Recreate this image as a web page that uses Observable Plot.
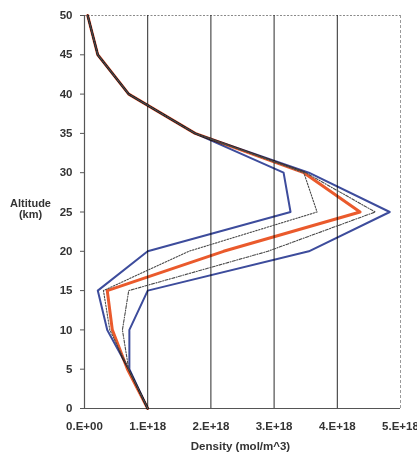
<!DOCTYPE html>
<html>
<head>
<meta charset="utf-8">
<script src="https://cdn.jsdelivr.net/npm/d3@7"></script>
<script src="https://cdn.jsdelivr.net/npm/@observablehq/plot@0.6"></script>
<style>
  html, body { margin: 0; padding: 0; background: #fff; }
  #chart { width: 417px; height: 456px; overflow: hidden; }
</style>
</head>
<body>
<div id="chart"></div>
<script>
// Ozone density profiles (units of 1E18 mol/m^3) versus altitude (km)
const altitude   = [0, 5, 10, 15, 20, 25, 30, 35, 40, 45, 50];
const densityMin = [1.0, 0.70, 0.36, 0.21, 1.00, 3.26, 3.15, 1.75, 0.70, 0.21, 0.05];
const densityLow = [1.0, 0.70, 0.40, 0.30, 1.65, 3.68, 3.47, 1.75, 0.70, 0.21, 0.05];
const densityMean= [1.0, 0.68, 0.44, 0.36, 2.20, 4.36, 3.47, 1.75, 0.70, 0.21, 0.05];
const densityHigh= [1.0, 0.70, 0.60, 0.70, 2.90, 4.60, 3.50, 1.75, 0.70, 0.21, 0.05];
const densityMax = [1.0, 0.71, 0.71, 1.00, 3.55, 4.83, 3.55, 1.75, 0.70, 0.21, 0.05];

const xTicks = [0, 1, 2, 3, 4, 5];
const xTickLabels = ["0.E+00", "1.E+18", "2.E+18", "3.E+18", "4.E+18", "5.E+18"];
const yTicks = [0, 5, 10, 15, 20, 25, 30, 35, 40, 45, 50];

const profile = (values) => altitude.map((a, i) => ({alt: a, density: values[i]}));

const blue = "#3d4c9c";
const red = "#ea5a2c";
const dots = "#4a4a4a";
const font = "'Liberation Sans', Arial, sans-serif";

const chart = Plot.plot({
  width: 417,
  height: 456,
  marginLeft: 84,
  marginRight: 17,
  marginTop: 15,
  marginBottom: 48,
  style: {fontFamily: font, fontSize: "11.5px", fontWeight: "bold", color: "#333", background: "#fff"},
  x: {domain: [0, 5]},
  y: {domain: [0, 50]},
  marks: [
    // frame: dotted top, dashed right, solid left/bottom
    Plot.ruleY([50], {stroke: "#8a8a8a", strokeDasharray: "2,1.5", strokeWidth: 1}),
    Plot.ruleX([5], {stroke: "#9a9a9a", strokeDasharray: "3,2", strokeWidth: 1}),
    Plot.ruleX([1, 2, 3, 4], {stroke: "#2a2a2a", strokeWidth: 1}),
    Plot.ruleX([0], {stroke: "#555", strokeWidth: 1.2}),
    Plot.ruleY([0], {stroke: "#555", strokeWidth: 1.2}),
    Plot.axisX({ticks: xTicks, tickFormat: (d) => xTickLabels[xTicks.indexOf(d)], tickSize: 0, tickPadding: 13, label: null, fill: "#333"}),
    Plot.axisY({ticks: yTicks, tickSize: 4, tickPadding: 8, label: null, fill: "#333", stroke: "#555"}),
    // profiles
    Plot.line(profile(densityMean), {x: "density", y: "alt", stroke: red, strokeWidth: 3, mixBlendMode: "multiply"}),
    Plot.line(profile(densityMin), {x: "density", y: "alt", stroke: blue, strokeWidth: 2, mixBlendMode: "multiply"}),
    Plot.line(profile(densityMax), {x: "density", y: "alt", stroke: blue, strokeWidth: 2, mixBlendMode: "multiply"}),
    Plot.line(profile(densityLow), {x: "density", y: "alt", stroke: dots, strokeWidth: 1.1, strokeDasharray: "1.5,1.5"}),
    Plot.line(profile(densityHigh), {x: "density", y: "alt", stroke: dots, strokeWidth: 1.1, strokeDasharray: "3,1.5,1,1.5"}),
    // axis titles
    Plot.text(["Altitude\n(km)"], {frameAnchor: "left", textAnchor: "middle", dx: -54, dy: -3, lineHeight: 1.0, fontWeight: "bold", fontSize: 11, fill: "#333"}),
    Plot.text(["Density (mol/m^3)"], {frameAnchor: "bottom", dx: -2, dy: 41, fontWeight: "bold", fontSize: 11.5, fill: "#333"})
  ]
});

document.getElementById("chart").appendChild(chart);
</script>
</body>
</html>
